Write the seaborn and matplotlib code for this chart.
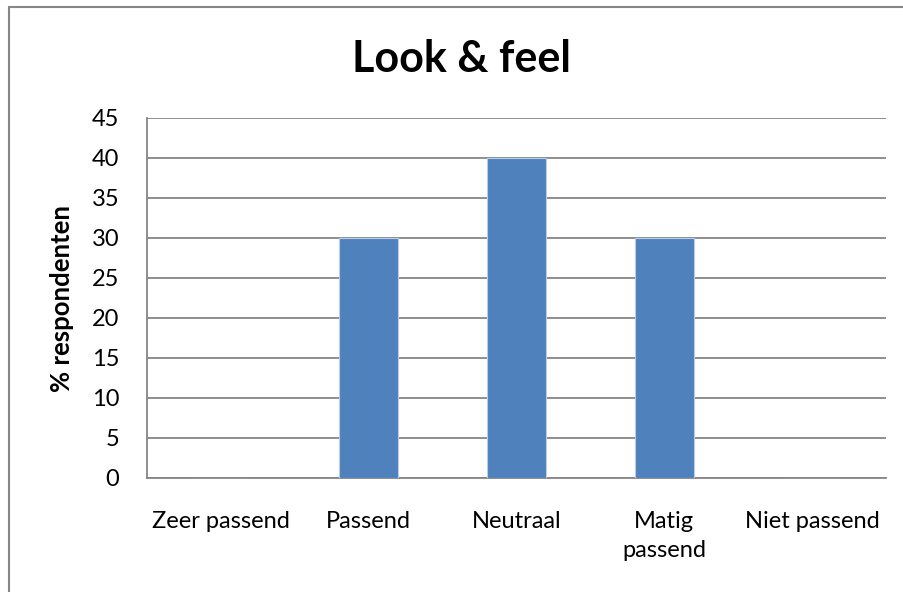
import matplotlib
matplotlib.use("Agg")
import matplotlib.pyplot as plt
import seaborn as sns
import pandas as pd
from matplotlib.lines import Line2D

categories = ["Zeer passend", "Passend", "Neutraal", "Matig\npassend", "Niet passend"]
values = [0, 30, 40, 30, 0]
yticks = [0, 5, 10, 15, 20, 25, 30, 35, 40, 45]

sns.set_theme(style="white")
plt.rcParams['font.family'] = ['Lato', 'DejaVu Sans']
plt.rcParams['text.color'] = 'black'
plt.rcParams['axes.labelcolor'] = 'black'

df = pd.DataFrame({"cat": categories, "val": values})

W, H = 904, 592
fig = plt.figure(figsize=(W / 100, H / 100), dpi=100)
ax = fig.add_axes([147 / W, 1 - 478 / H, (886 - 147) / W, (478 - 118) / H])

sns.barplot(data=df, x="cat", y="val", color="#4F81BD", width=0.4,
            edgecolor="#B9CDE5", linewidth=0.8, saturation=1, ax=ax, zorder=3)

ax.set_ylim(0, 45)
ax.set_yticks(yticks)
ax.set_yticklabels([str(v) for v in yticks])
ax.yaxis.grid(True, color="#868686", linewidth=1.3, zorder=0)
ax.set_axisbelow(True)
for side in ["top", "right"]:
    ax.spines[side].set_visible(False)
for side in ["left", "bottom"]:
    ax.spines[side].set_color("#868686")
    ax.spines[side].set_linewidth(1.3)
ax.tick_params(axis="y", length=0, pad=20, labelsize=17, colors="black")
ax.tick_params(axis="x", length=0, pad=24, labelsize=17, colors="black")
for lab in ax.get_xticklabels():
    lab.set_linespacing(1.45)
ax.set_xlabel("")
ax.set_ylabel("% respondenten", fontsize=18.5, fontweight="bold", labelpad=13,
              color="black")

fig.text(462 / W, 1 - 72 / H, "Look & feel", ha="center", va="baseline",
         fontsize=31, fontweight="bold", color="black")

x0, y0 = 8.5 / W, 1 - 6.5 / H
fig.add_artist(Line2D([x0, x0], [0, y0], transform=fig.transFigure,
                      color="#868686", linewidth=1.5))
fig.add_artist(Line2D([x0, 1], [y0, y0], transform=fig.transFigure,
                      color="#868686", linewidth=1.5))

fig.savefig("out.png", dpi=100)
